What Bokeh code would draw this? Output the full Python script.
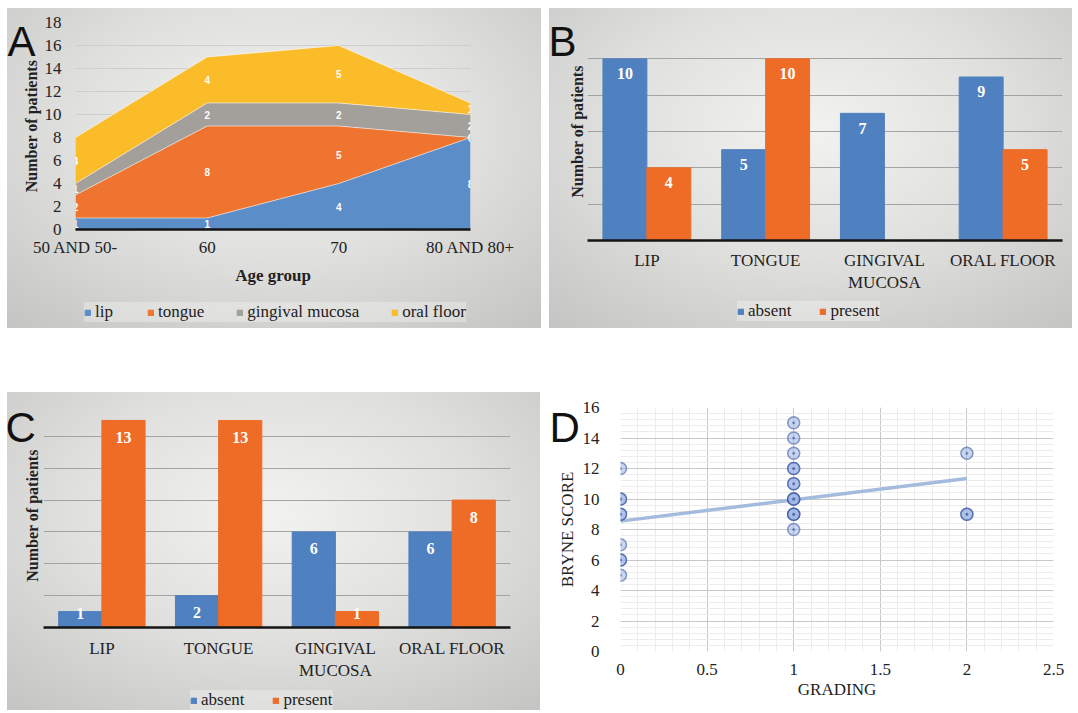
import math
from bokeh.plotting import figure
from bokeh.models import (ColumnDataSource, FixedTicker, Range1d, Legend, LegendItem)
from bokeh.core.properties import value
from bokeh.embed import file_html
from bokeh.resources import INLINE

SERIF = "Liberation Serif"
SANS = "Liberation Sans"

# ---------------- data ----------------
# Panel A (stacked area by age group)
age_groups = ["50 AND 50-", "60", "70", "80 AND 80+"]
lip = [1, 1, 4, 8]
tongue = [2, 8, 5, 0]
gingival_mucosa = [1, 2, 2, 2]
oral_floor = [4, 4, 5, 1]

# Panel B
sites = ["LIP", "TONGUE", "GINGIVAL MUCOSA", "ORAL FLOOR"]
b_absent = [10, 5, 7, 9]
b_present = [4, 10, 0, 5]

# Panel C
c_absent = [1, 2, 6, 6]
c_present = [13, 13, 1, 8]

# Panel D (scatter, duplicates overlap)
grading = [0, 0, 0, 0, 0, 0, 0, 0, 0,
           1, 1, 1, 1, 1, 1, 1, 1, 1, 1, 1, 1, 1, 1,
           2, 2, 2]
bryne = [12, 10, 10, 9, 9, 7, 6, 6, 5,
         15, 14, 13, 12, 12, 11, 11, 10, 10, 10, 9, 9, 9, 8,
         13, 9, 9]
trend_x = [0, 2]
trend_y = [8.55, 11.35]

# ---------------- styling helpers ----------------
GRAD = ("radial-gradient(ellipse 75% 80% at 50% 38%, #f2f2f0 0%, #e0e0de 50%, "
        "#c5c5c3 100%)")
BLUE = "#4f80c0"
ORANGE = "#ee6c26"
TXT = "#222222"
colsA = ["#5b8dc9", "#ef7430", "#a39f9b", "#fbbc2a"]
namesA = ["lip", "tongue", "gingival mucosa", "oral floor"]


def gradient_panel(p):
    p.border_fill_color = None
    p.background_fill_color = None
    p.outline_line_color = None
    p.styles = {"background": GRAD}


def style_axis(ax, size="17px"):
    ax.major_label_text_font = SERIF
    ax.major_label_text_font_size = size
    ax.major_label_text_color = TXT
    ax.major_tick_line_color = None
    ax.minor_tick_line_color = None
    ax.major_tick_out = 0
    ax.minor_tick_out = 0
    ax.axis_label_text_font = SERIF
    ax.axis_label_text_color = TXT
    ax.axis_label_text_font_style = "normal"


# ---------------- Panel A ----------------
xA = list(range(len(age_groups)))
srcA = ColumnDataSource(dict(x=xA, lip=lip, tongue=tongue,
                             gingival=gingival_mucosa, floor=oral_floor))
pA = figure(width=534, height=320, x_range=Range1d(0, 3), y_range=Range1d(0, 18),
            output_backend="svg", toolbar_location=None,
            min_border_left=68, min_border_right=71, min_border_top=14, min_border_bottom=99)
gradient_panel(pA)
stack = ["lip", "tongue", "gingival", "floor"]
pA.varea_stack(stackers=stack, x="x", color=colsA, source=srcA)

series = [lip, tongue, gingival_mucosa, oral_floor]
cum = [0] * len(age_groups)
for s in series:
    cum = [c + v for c, v in zip(cum, s)]
    pA.line(xA, cum, line_color="#ffffff", line_alpha=0.55, line_width=1)

lx, ly, lt = [], [], []
for i in range(len(age_groups)):
    base = 0
    for s in series:
        lx.append(i)
        ly.append(base + s[i] / 2)
        lt.append(str(s[i]))
        base += s[i]
pA.text(x=lx, y=ly, text=lt, text_color="white", text_font=value(SANS),
        text_font_size="10px", text_font_style="bold", text_align="center",
        text_baseline="middle")

pA.xaxis.ticker = FixedTicker(ticks=xA)
pA.xaxis.major_label_overrides = {i: g for i, g in enumerate(age_groups)}
pA.yaxis.ticker = FixedTicker(ticks=list(range(0, 19, 2)))
style_axis(pA.xaxis[0])
style_axis(pA.yaxis[0])
pA.yaxis.axis_line_color = None
pA.xaxis.axis_line_color = "#151515"
pA.xaxis.axis_line_width = 2.5
pA.xaxis.major_label_standoff = 8
pA.yaxis.major_label_standoff = 14
pA.xaxis.axis_label = "Age group"
pA.xaxis.axis_label_text_font_size = "17px"
pA.xaxis.axis_label_text_font_style = "bold"
pA.xaxis.axis_label_standoff = 6
pA.yaxis.axis_label = "Number of patients"
pA.yaxis.axis_label_text_font_size = "16px"
pA.yaxis.axis_label_text_font_style = "bold"
pA.yaxis.axis_label_standoff = 2
pA.xgrid.grid_line_color = None
pA.ygrid.grid_line_color = "#c9c9c9"
pA.ygrid.grid_line_alpha = 0.8


# ---------------- bar panel builder ----------------
def bar_panel(absent, present, ymax, width, height, borders, off, std):
    xs = list(range(len(sites)))
    src = ColumnDataSource(dict(
        xa=[x - 0.185 for x in xs], xp=[x + 0.185 for x in xs],
        absent=absent, present=present,
        a_lab=[str(v) if v else "" for v in absent],
        p_lab=[str(v) if v else "" for v in present],
        a_y=[max(v - off, 0.9) for v in absent],
        p_y=[max(v - off, 0.9) for v in present]))
    p = figure(width=width, height=height, x_range=Range1d(-0.5, len(sites) - 0.5),
               y_range=Range1d(0, ymax), output_backend="svg", toolbar_location=None,
               min_border_left=borders[0], min_border_right=borders[1],
               min_border_top=borders[2], min_border_bottom=borders[3])
    gradient_panel(p)
    p.vbar(x="xa", top="absent", width=0.37, color=BLUE, source=src)
    p.vbar(x="xp", top="present", width=0.37, color=ORANGE, source=src)
    for xc, yc, tc in (("xa", "a_y", "a_lab"), ("xp", "p_y", "p_lab")):
        p.text(x=xc, y=yc, text=tc, source=src,
               text_color="white", text_font=value(SERIF), text_font_size="16px",
               text_font_style="bold", text_align="center", text_baseline="middle")
    p.ygrid.ticker = FixedTicker(ticks=list(range(0, ymax + 1, 2)))
    p.yaxis.ticker = FixedTicker(ticks=list(range(0, ymax + 1, 2)))
    p.yaxis.visible = False
    p.ygrid.grid_line_color = "#a3a3a3"
    p.xaxis.ticker = FixedTicker(ticks=xs)
    p.xaxis.major_label_overrides = {i: s.replace(" MUCOSA", "\nMUCOSA")
                                     for i, s in enumerate(sites)}
    style_axis(p.xaxis[0])
    p.xaxis.axis_line_color = "#151515"
    p.xaxis.axis_line_width = 2.5
    p.xaxis.major_label_standoff = std
    p.xgrid.grid_line_color = None
    return p


pB = bar_panel(b_absent, b_present, 12, 523, 320, (38, 10, 14, 88), 0.82, 10)
pC = bar_panel(c_absent, c_present, 14, 533, 318, (36, 30, 12, 83), 1.07, 11)

# ---------------- Panel D ----------------
pD = figure(width=527, height=318, x_range=Range1d(0, 2.5), y_range=Range1d(0, 16),
            output_backend="svg", toolbar_location=None,
            min_border_left=71, min_border_right=23, min_border_top=15, min_border_bottom=59)
pD.outline_line_color = None
pD.xaxis.ticker = FixedTicker(ticks=[0, 0.5, 1, 1.5, 2, 2.5],
                              minor_ticks=[i / 10 for i in range(26)])
pD.yaxis.ticker = FixedTicker(ticks=list(range(0, 17, 2)),
                              minor_ticks=[i * 0.4 for i in range(41)])
pD.xaxis.major_label_overrides = {0: "0", 0.5: "0.5", 1: "1", 1.5: "1.5", 2: "2", 2.5: "2.5"}
pD.xgrid.grid_line_color = "#c8c8c8"
pD.ygrid.grid_line_color = "#c8c8c8"
pD.xgrid.minor_grid_line_color = "#ececec"
pD.ygrid.minor_grid_line_color = "#ececec"
for ax in (pD.xaxis[0], pD.yaxis[0]):
    style_axis(ax)
    ax.axis_line_color = None
    ax.axis_label_text_font_size = "17px"
pD.xaxis.major_label_standoff = 12
pD.yaxis.major_label_standoff = 21
pD.xaxis.axis_label = "GRADING"
pD.xaxis.axis_label_standoff = 2
pD.yaxis.axis_label = "BRYNE SCORE"
pD.yaxis.axis_label_standoff = 3
pD.line(trend_x, trend_y, line_color="#a3bbdc", line_width=3.5)
pD.scatter(grading, bryne, marker="circle_dot", size=12, fill_color="#9db5e3",
           fill_alpha=0.55, line_color="#2f4f9f", line_alpha=0.55, line_width=1.5)

# ---------------- overlay: panel letters, bar-panel y titles, legends ----------------
W, H = 1078, 713
ov = figure(width=W, height=H, x_range=Range1d(0, W), y_range=Range1d(0, H),
            output_backend="svg", toolbar_location=None,
            x_axis_location=None, y_axis_location=None, min_border=0)
ov.border_fill_color = None
ov.background_fill_color = None
ov.outline_line_color = None
ov.grid.visible = False

# letters (page px, y measured downward, converted)
ov.text(x=[7, 548, 5, 549], y=[H - 41, H - 41, H - 427, H - 427],
        text=["A", "B", "C", "D"], text_font=value(SANS), text_font_size="42px",
        text_color="#111111", text_align="left", text_baseline="alphabetic")
# y titles of bar panels
ov.text(x=[577, 32], y=[H - 131, H - 515], text=["Number of patients"] * 2,
        text_font=value(SERIF), text_font_size="16px", text_font_style="bold",
        text_color=TXT, text_align="center", text_baseline="middle", angle=math.pi / 2)


def make_legend(names, colors, x_left, bottom, spacing):
    # zero-size swatch renderers, used only to draw the legend keys
    rs = [ov.vbar(x=[0], top=[0], bottom=[0], width=0, color=c) for c in colors]
    leg = Legend(items=[LegendItem(label=n, renderers=[r]) for n, r in zip(names, rs)],
                 orientation="horizontal", location=(x_left, H - bottom),
                 label_text_font=SERIF, label_text_font_size="17px", label_text_color=TXT,
                 glyph_width=7, glyph_height=7, label_standoff=4, spacing=spacing,
                 label_height=16, padding=5, margin=0, background_fill_color="#ffffff",
                 background_fill_alpha=0.3, border_line_color=None)
    ov.add_layout(leg, "center")


make_legend(namesA, colsA, 84, 322, 32)
make_legend(["absent", "present"], [BLUE, ORANGE], 737, 321, 28)
make_legend(["absent", "present"], [BLUE, ORANGE], 190, 710, 28)

TEMPLATE = """
{% block contents %}
{% from macros import embed %}
<style>html, body { overflow: hidden; background: #ffffff; }</style>
<div style="position:absolute; left:7px; top:8px;">{{ embed(roots[0]) }}</div>
<div style="position:absolute; left:549px; top:8px;">{{ embed(roots[1]) }}</div>
<div style="position:absolute; left:7px; top:392px;">{{ embed(roots[2]) }}</div>
<div style="position:absolute; left:549px; top:392px;">{{ embed(roots[3]) }}</div>
<div style="position:absolute; left:0px; top:0px; pointer-events:none; z-index:10;">{{ embed(roots[4]) }}</div>
{% endblock %}
"""

open("out.html", "w").write(file_html([pA, pB, pC, pD, ov], INLINE, template=TEMPLATE))
